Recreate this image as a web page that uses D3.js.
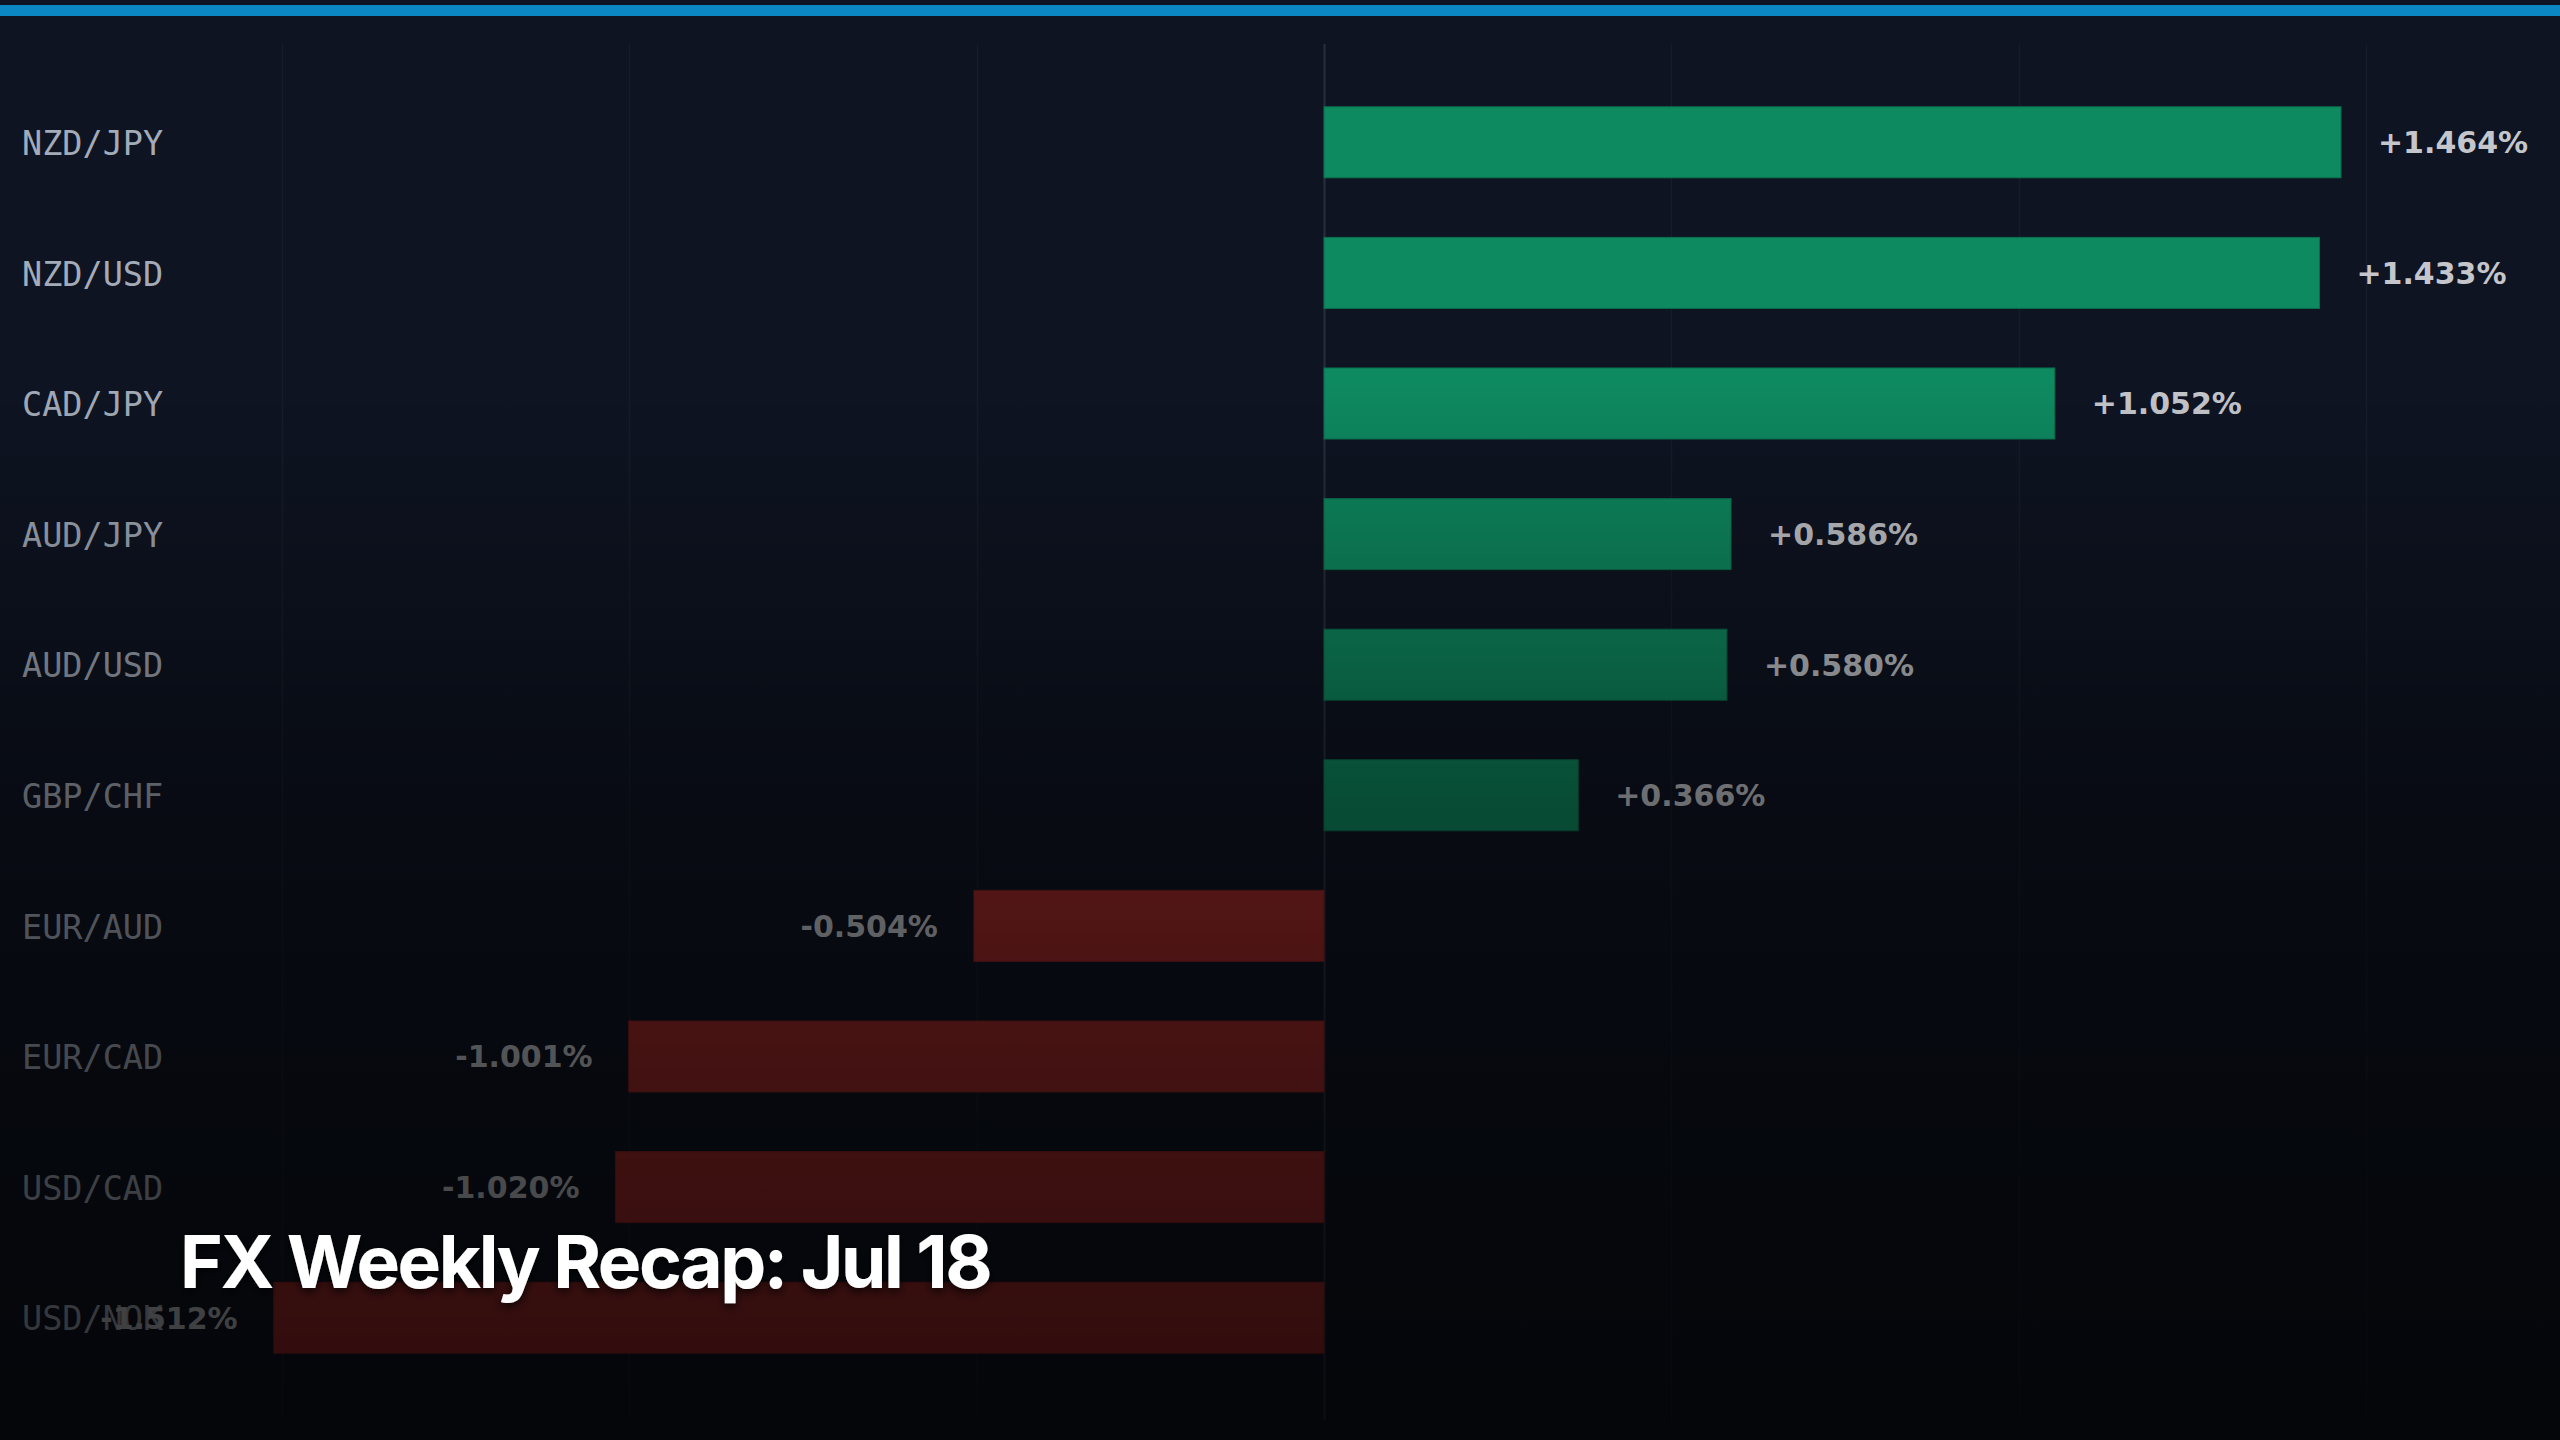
<!DOCTYPE html>
<html>
<head>
<meta charset="utf-8">
<script src="https://cdn.jsdelivr.net/npm/d3@7"></script>
<style>
  html, body { margin: 0; padding: 0; background: #0e1422; overflow: hidden; }
  svg { display: block; }
</style>
</head>
<body>
<svg id="chart" width="2560" height="1440"></svg>
<script>
// ---- data ----
const pairs = ["NZD/JPY", "NZD/USD", "CAD/JPY", "AUD/JPY", "AUD/USD", "GBP/CHF", "EUR/AUD", "EUR/CAD", "USD/CAD", "USD/NOK"];
const changes = [1.464, 1.433, 1.052, 0.586, 0.580, 0.366, -0.504, -1.001, -1.020, -1.512];
const gridTicks = [-1.5, -1.0, -0.5, 0, 0.5, 1.0, 1.5];
const titleText = "FX Weekly Recap: Jul 18";

const W = 2560, H = 1440;
const svg = d3.select("#chart");
const defs = svg.append("defs");

// background
svg.append("rect").attr("x", 0).attr("y", 0).attr("width", W).attr("height", H).attr("fill", "#0e1422");

// top accent bar
svg.append("rect").attr("x", 0).attr("y", 5).attr("width", W).attr("height", 11).attr("fill", "#0b88c4");

const x = d3.scaleLinear().domain([-1.5, 1.5]).range([282, 2366]);
const y = d3.scaleBand().domain(pairs).range([77, 1383]).paddingInner(0.456).paddingOuter(0.228);

const data = pairs.map((p, i) => ({ pair: p, v: changes[i] }));

// gridlines
const grid = svg.append("g");
grid.selectAll("line").data(gridTicks).join("line")
  .attr("x1", d => Math.round(x(d)) + 0.5).attr("x2", d => Math.round(x(d)) + 0.5)
  .attr("y1", 44).attr("y2", 1420)
  .attr("stroke", d => d === 0 ? "#272e3d" : "#161c2a")
  .attr("stroke-width", d => d === 0 ? 2 : 1.5);

// bars
svg.append("g").selectAll("rect").data(data).join("rect")
  .attr("x", d => x(Math.min(0, d.v)))
  .attr("y", d => y(d.pair))
  .attr("width", d => Math.abs(x(d.v) - x(0)))
  .attr("height", y.bandwidth())
  .attr("fill", d => d.v >= 0 ? "#0e8a60" : "#a22a2a")
  .attr("stroke", d => d.v >= 0 ? "#0b6e4c" : "#852222")
  .attr("stroke-width", 1);

// category labels
svg.append("g").selectAll("text").data(data).join("text")
  .attr("x", 22)
  .attr("y", d => y(d.pair) + y.bandwidth() / 2)
  .attr("dy", "0.38em")
  .attr("font-family", "'DejaVu Sans Mono', monospace")
  .attr("font-size", 33.5)
  .attr("fill", "#a3abb8")
  .text(d => d.pair);

// value labels
const fmt = v => (v >= 0 ? "+" : "") + v.toFixed(3) + "%";
svg.append("g").selectAll("text").data(data).join("text")
  .attr("x", d => d.v >= 0 ? x(d.v) + 37 : x(d.v) - 36)
  .attr("y", d => y(d.pair) + y.bandwidth() / 2)
  .attr("dy", "0.36em")
  .attr("text-anchor", d => d.v >= 0 ? "start" : "end")
  .attr("font-family", "'DejaVu Sans', sans-serif")
  .attr("font-weight", "bold")
  .attr("font-size", 30)
  .attr("fill", "#c4c6cb")
  .text(d => fmt(d.v));

// dark fade overlay
const grad = defs.append("linearGradient").attr("id", "fade")
  .attr("gradientUnits", "userSpaceOnUse").attr("x1", 0).attr("y1", 0).attr("x2", 0).attr("y2", H);
[[0, 0], [380 / H, 0], [800 / H, 0.45], [1100 / H, 0.6], [1, 0.72]].forEach(([o, a]) => {
  grad.append("stop").attr("offset", o).attr("stop-color", "#000").attr("stop-opacity", a);
});
svg.append("rect").attr("x", 0).attr("y", 20).attr("width", W).attr("height", H - 20).attr("fill", "url(#fade)");

// title
const shadow = defs.append("filter").attr("id", "shadow").attr("x", "-10%").attr("y", "-30%").attr("width", "120%").attr("height", "160%");
shadow.append("feDropShadow").attr("dx", 0).attr("dy", 3).attr("stdDeviation", 5).attr("flood-color", "#000").attr("flood-opacity", 0.8);
svg.append("text")
  .attr("x", 180).attr("y", 1288)
  .attr("font-family", "Inter, 'Noto Sans', sans-serif")
  .attr("font-weight", 700)
  .attr("font-size", 73)
  .attr("letter-spacing", "-2.4px")
  .attr("fill", "#ffffff")
  .attr("filter", "url(#shadow)")
  .text(titleText);
</script>
</body>
</html>
